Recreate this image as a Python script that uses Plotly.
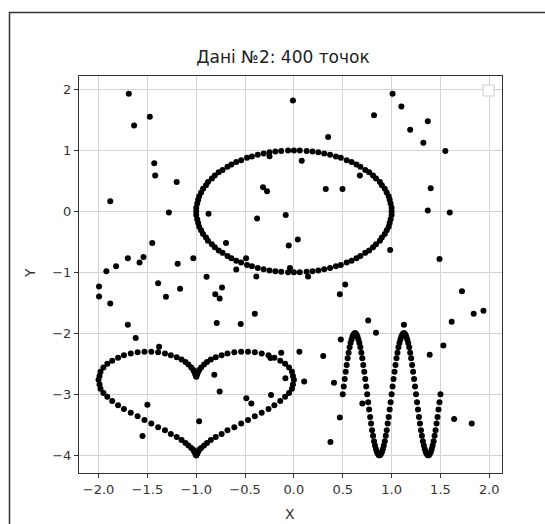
import plotly.graph_objects as go

# ---- data ----
circle_x = [1.00, 1.00, 0.99, 0.98, 0.97, 0.95, 0.93, 0.90, 0.88, 0.84, 0.81, 0.77, 0.73, 0.68, 0.64, 0.59, 0.54, 0.48, 0.43, 0.37, 0.31, 0.25, 0.19, 0.13, 0.06,
            0.00, -0.06, -0.13, -0.19, -0.25, -0.31, -0.37, -0.43, -0.48, -0.54, -0.59, -0.64, -0.68, -0.73, -0.77, -0.81, -0.84, -0.88, -0.90, -0.93, -0.95, -0.97, -0.98, -0.99, -1.00,
            -1.00, -1.00, -0.99, -0.98, -0.97, -0.95, -0.93, -0.90, -0.88, -0.84, -0.81, -0.77, -0.73, -0.68, -0.64, -0.59, -0.54, -0.48, -0.43, -0.37, -0.31, -0.25, -0.19, -0.13, -0.06,
            0.00, 0.06, 0.13, 0.19, 0.25, 0.31, 0.37, 0.43, 0.48, 0.54, 0.59, 0.64, 0.68, 0.73, 0.77, 0.81, 0.84, 0.88, 0.90, 0.93, 0.95, 0.97, 0.98, 0.99, 1.00]
circle_y = [0.00, 0.06, 0.13, 0.19, 0.25, 0.31, 0.37, 0.43, 0.48, 0.54, 0.59, 0.64, 0.68, 0.73, 0.77, 0.81, 0.84, 0.88, 0.90, 0.93, 0.95, 0.97, 0.98, 0.99, 1.00,
            1.00, 1.00, 0.99, 0.98, 0.97, 0.95, 0.93, 0.90, 0.88, 0.84, 0.81, 0.77, 0.73, 0.68, 0.64, 0.59, 0.54, 0.48, 0.43, 0.37, 0.31, 0.25, 0.19, 0.13, 0.06,
            0.00, -0.06, -0.13, -0.19, -0.25, -0.31, -0.37, -0.43, -0.48, -0.54, -0.59, -0.64, -0.68, -0.73, -0.77, -0.81, -0.84, -0.88, -0.90, -0.93, -0.95, -0.97, -0.98, -0.99, -1.00,
            -1.00, -1.00, -0.99, -0.98, -0.97, -0.95, -0.93, -0.90, -0.88, -0.84, -0.81, -0.77, -0.73, -0.68, -0.64, -0.59, -0.54, -0.48, -0.43, -0.37, -0.31, -0.25, -0.19, -0.13, -0.06]

heart_x = [-1.00, -1.00, -1.00, -0.99, -0.98, -0.97, -0.95, -0.92, -0.89, -0.85, -0.80, -0.74, -0.68, -0.61, -0.54, -0.47, -0.40, -0.33, -0.26, -0.20, -0.14, -0.09, -0.05, -0.02, -0.01,
           0.00, -0.01, -0.02, -0.05, -0.09, -0.14, -0.20, -0.26, -0.33, -0.40, -0.47, -0.54, -0.61, -0.68, -0.74, -0.80, -0.85, -0.89, -0.92, -0.95, -0.97, -0.98, -0.99, -1.00, -1.00,
           -1.00, -1.00, -1.00, -1.01, -1.02, -1.03, -1.05, -1.08, -1.11, -1.15, -1.20, -1.26, -1.32, -1.39, -1.46, -1.53, -1.60, -1.67, -1.74, -1.80, -1.86, -1.91, -1.95, -1.98, -1.99,
           -2.00, -1.99, -1.98, -1.95, -1.91, -1.86, -1.80, -1.74, -1.67, -1.60, -1.53, -1.46, -1.39, -1.32, -1.26, -1.20, -1.15, -1.11, -1.08, -1.05, -1.03, -1.02, -1.01, -1.00, -1.00]
heart_y = [-2.71, -2.70, -2.69, -2.67, -2.63, -2.60, -2.56, -2.51, -2.47, -2.43, -2.39, -2.36, -2.33, -2.31, -2.30, -2.30, -2.31, -2.33, -2.36, -2.40, -2.45, -2.50, -2.56, -2.63, -2.70,
           -2.76, -2.84, -2.91, -2.98, -3.04, -3.11, -3.18, -3.24, -3.30, -3.36, -3.42, -3.48, -3.54, -3.59, -3.65, -3.70, -3.75, -3.80, -3.84, -3.88, -3.91, -3.94, -3.97, -3.99, -4.00,
           -4.00, -4.00, -3.99, -3.97, -3.94, -3.91, -3.88, -3.84, -3.80, -3.75, -3.70, -3.65, -3.59, -3.54, -3.48, -3.42, -3.36, -3.30, -3.24, -3.18, -3.11, -3.04, -2.98, -2.91, -2.84,
           -2.76, -2.70, -2.63, -2.56, -2.50, -2.45, -2.40, -2.36, -2.33, -2.31, -2.30, -2.30, -2.31, -2.33, -2.36, -2.39, -2.43, -2.47, -2.51, -2.56, -2.60, -2.63, -2.67, -2.69, -2.70]

wave_x = [0.50, 0.51, 0.52, 0.53, 0.54, 0.55, 0.56, 0.57, 0.58, 0.59,
          0.60, 0.61, 0.62, 0.63, 0.64, 0.65, 0.66, 0.67, 0.68, 0.69,
          0.70, 0.71, 0.72, 0.73, 0.74, 0.75, 0.76, 0.77, 0.78, 0.79,
          0.80, 0.81, 0.82, 0.83, 0.84, 0.85, 0.86, 0.87, 0.88, 0.89,
          0.90, 0.91, 0.92, 0.93, 0.94, 0.95, 0.96, 0.97, 0.98, 0.99,
          1.00, 1.01, 1.02, 1.03, 1.04, 1.05, 1.06, 1.07, 1.08, 1.09,
          1.10, 1.11, 1.12, 1.13, 1.14, 1.15, 1.16, 1.17, 1.18, 1.19,
          1.20, 1.21, 1.22, 1.23, 1.24, 1.25, 1.26, 1.27, 1.28, 1.29,
          1.30, 1.31, 1.32, 1.33, 1.34, 1.35, 1.36, 1.37, 1.38, 1.39,
          1.40, 1.41, 1.42, 1.43, 1.44, 1.45, 1.46, 1.47, 1.48, 1.49,
          1.50]
wave_y = [-3.00, -2.87, -2.75, -2.63, -2.52, -2.41, -2.32, -2.23, -2.16, -2.10,
          -2.05, -2.02, -2.00, -2.00, -2.02, -2.05, -2.10, -2.16, -2.23, -2.32,
          -2.41, -2.52, -2.63, -2.75, -2.87, -3.00, -3.13, -3.25, -3.37, -3.48,
          -3.59, -3.68, -3.77, -3.84, -3.90, -3.95, -3.98, -4.00, -4.00, -3.98,
          -3.95, -3.90, -3.84, -3.77, -3.68, -3.59, -3.48, -3.37, -3.25, -3.13,
          -3.00, -2.87, -2.75, -2.63, -2.52, -2.41, -2.32, -2.23, -2.16, -2.10,
          -2.05, -2.02, -2.00, -2.00, -2.02, -2.05, -2.10, -2.16, -2.23, -2.32,
          -2.41, -2.52, -2.63, -2.75, -2.87, -3.00, -3.13, -3.25, -3.37, -3.48,
          -3.59, -3.68, -3.77, -3.84, -3.90, -3.95, -3.98, -4.00, -4.00, -3.98,
          -3.95, -3.90, -3.84, -3.77, -3.68, -3.59, -3.48, -3.37, -3.25, -3.13,
          -3.00]

noise_x = [-1.69, -1.475, -1.636, -1.43, -1.42, -1.20, -1.88, -1.28, -0.874, -1.45,
           -1.70, -1.54, -1.58, -1.82, -1.92, -1.19, -1.03, -0.894,
           -0.01, 0.35, -0.25, 0.08, -0.316, -0.275, 0.326, 0.497, -0.377, -0.084,
           -0.695, 0.04, -0.053, -0.49, -0.59, -0.04, -0.385, 0.145, 0.985, 0.675,
           1.01, 1.10, 0.82, 1.37, 1.19, 1.325, 1.55, 1.40, 1.37, 1.595, 1.49,
           -1.995, -1.995, -1.88, -1.39, -1.31, -1.165, -0.805, -0.79, -1.70, -1.62,
           -1.38, -0.815, -1.50, -0.97, -1.55,
           -0.736, -0.76, 0.525, 0.47, -0.545, -0.40, 0.48, -0.13, 0.056, 0.30,
           -0.24, -0.087, 0.105, 0.41, -0.76, -0.234, -0.487, -0.436, 0.47, 0.374,
           1.72, 1.84, 1.94, 1.615, 0.76, 0.84, 1.126, 1.53, 1.39, 0.70, 1.64, 1.82]
noise_y = [1.93, 1.55, 1.41, 0.79, 0.59, 0.48, 0.165, -0.02, -0.04, -0.52,
           -0.77, -0.75, -0.84, -0.90, -0.98, -0.86, -0.77, -1.07,
           1.82, 1.22, 0.905, 0.83, 0.395, 0.33, 0.367, 0.367, -0.115, -0.06,
           -0.52, -0.46, -0.56, -0.77, -0.955, -0.93, -1.066, -1.066, -0.635, 0.587,
           1.93, 1.72, 1.575, 1.48, 1.34, 1.125, 0.99, 0.38, 0.016, -0.02, -0.78,
           -1.23, -1.395, -1.51, -1.18, -1.40, -1.27, -1.36, -1.83, -1.86, -2.075,
           -2.22, -2.68, -3.17, -3.44, -3.685,
           -1.25, -1.43, -1.20, -1.36, -1.845, -1.68, -2.10, -2.32, -2.30, -2.37,
           -2.405, -2.735, -2.79, -2.81, -2.955, -3.01, -3.065, -3.15, -3.38, -3.78,
           -1.31, -1.68, -1.63, -1.81, -1.79, -1.99, -1.86, -2.20, -2.35, -3.15, -3.405, -3.48]

x_ticks = [-2.0, -1.5, -1.0, -0.5, 0.0, 0.5, 1.0, 1.5, 2.0]
x_tick_text = ["\u22122.0", "\u22121.5", "\u22121.0", "\u22120.5", "0.0", "0.5", "1.0", "1.5", "2.0"]
y_ticks = [2, 1, 0, -1, -2, -3, -4]
y_tick_text = ["2", "1", "0", "\u22121", "\u22122", "\u22123", "\u22124"]

title_text = "Дані №2: 400 точок"

# ---- figure ----
W, H = 545, 524
L, R, T, B = 79, 502, 76, 473  # plot area in pixels

all_x = circle_x + heart_x + wave_x + noise_x
all_y = circle_y + heart_y + wave_y + noise_y

fig = go.Figure()
fig.add_trace(go.Scatter(
    x=all_x, y=all_y, mode="markers",
    marker=dict(size=6, color="black", line=dict(width=0)),
    showlegend=False, hoverinfo="skip",
))

font_family = "DejaVu Sans"
axis_common = dict(
    ticks="outside", ticklen=4, tickwidth=1, tickcolor="#333",
    showline=True, linecolor="#333", linewidth=1, mirror=True,
    showgrid=True, gridcolor="#d3d3d3", gridwidth=1,
    zeroline=False,
    tickfont=dict(family=font_family, size=13, color="#333"),
)

fig.update_layout(
    width=W, height=H,
    margin=dict(l=L, r=W - R, t=T, b=H - B),
    paper_bgcolor="white", plot_bgcolor="white",
    xaxis=dict(range=[-2.2, 2.13], tickmode="array", tickvals=x_ticks, ticktext=x_tick_text, **axis_common),
    yaxis=dict(range=[-4.29, 2.22], tickmode="array", tickvals=y_ticks, ticktext=y_tick_text, **axis_common),
    title=dict(text=title_text, x=283 / W, xref="container", xanchor="center",
               y=1 - 57 / H, yref="container", yanchor="middle",
               font=dict(family=font_family, size=17, color="#222")),
    showlegend=False,
)

pw, ph = R - L, B - T

def px_to_paper(px, py):
    return (px - L) / pw, (B - py) / ph

ax_x, ax_y = px_to_paper(290, 514)
ay_x, ay_y = px_to_paper(30, 273)
fig.add_annotation(text="X", x=ax_x, y=ax_y, xref="paper", yref="paper", showarrow=False,
                   xanchor="center", yanchor="middle", font=dict(family=font_family, size=14, color="#333"))
fig.add_annotation(text="Y", x=ay_x, y=ay_y, xref="paper", yref="paper", showarrow=False, textangle=-90,
                   xanchor="center", yanchor="middle", font=dict(family=font_family, size=14, color="#333"))

# empty legend frame (top right)
lx0, ly0 = px_to_paper(483, 85)
lx1, ly1 = px_to_paper(494, 96)
fig.add_shape(type="rect", xref="paper", yref="paper", x0=lx0, y0=ly0, x1=lx1, y1=ly1,
              line=dict(color="#cccccc", width=1), fillcolor="white", layer="above")

# outer frame of the screenshot
fx0, fy0 = px_to_paper(9.5, 12.5)
fx1, fy1 = px_to_paper(700, 700)
fig.add_shape(type="rect", xref="paper", yref="paper", x0=fx0, y0=fy0, x1=fx1, y1=fy1,
              line=dict(color="#333", width=1.5), fillcolor="rgba(0,0,0,0)", layer="above")

fig.write_html("out.html")
